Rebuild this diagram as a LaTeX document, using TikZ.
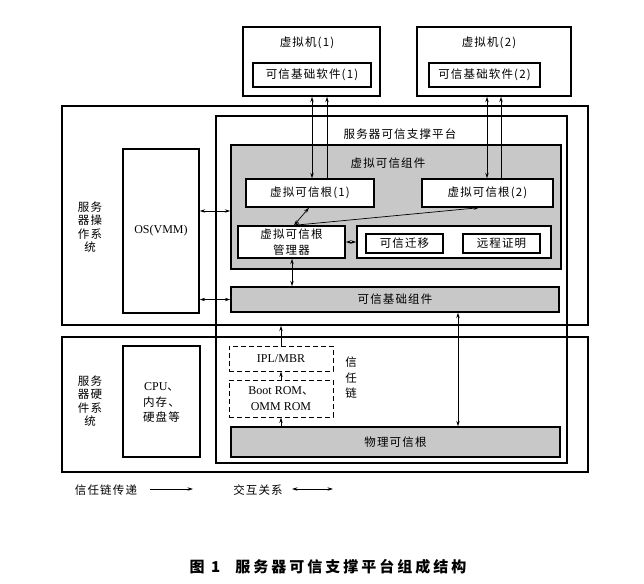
\documentclass[tikz,border=0pt]{standalone}
\usepackage{fontspec}
\setmainfont{Noto Sans CJK SC}[LetterSpace=10]
\newfontfamily\lat{Liberation Serif}
\newfontfamily\capfont{Noto Sans CJK SC}[LetterSpace=20]
\usetikzlibrary{arrows.meta,fit}
\definecolor{boxgray}{RGB}{200,200,200}
\newcommand{\bodyfont}{\fontsize{11.5}{15.5}\selectfont}
\newcommand{\latf}{\lat\fontsize{12}{15.5}\selectfont}
\tikzset{
  box/.style={draw, line width=1.4pt, fill=white, inner sep=0pt},
  graybox/.style={box, fill=boxgray},
  frame/.style={draw, line width=1.4pt, inner sep=0pt},
  dbox/.style={draw, line width=1pt, dash pattern=on 5pt off 3pt, inner sep=0pt},
  txt/.style={inner sep=0pt, font=\bodyfont, align=center},
  side/.style={txt, font=\fontsize{11.5}{13.5}\selectfont},
  uni/.style={-{Stealth[length=5.5pt,width=3.4pt]}, line width=0.7pt},
  bi/.style={{Stealth[length=5.5pt,width=3.4pt]}-{Stealth[length=5.5pt,width=3.4pt]}, line width=0.7pt},
}
\begin{document}
\begin{tikzpicture}[x=1pt,y=-1pt]
\useasboundingbox[fill=white] (0,0) rectangle (644,583);
% outer frames
\node[frame, fit={(62,106) (588,325)}] (osys) {};
\node[frame, fit={(62,337) (588,472)}] (hw) {};
\node[frame, fit={(216,116) (567,463)}] (plat) {};
\node[side] (ost) at (90,227) {服务\\器操\\作系\\统};
\node[side] (hwt) at (90,401) {服务\\器硬\\件系\\统};
\node[txt] (platt) at (400,134) {服务器可信支撑平台};
% virtual machines
\node[box, fit={(243,27) (380,96)}] (vm1) {};
\node[txt] (vm1t) at (307,43) {虚拟机(1)};
\node[box, fit={(253,63) (371,87)}] (sw1) {};
\node[txt] (sw1t) at (sw1) {可信基础软件(1)};
\node[box, fit={(417,27) (571,96)}] (vm2) {};
\node[txt] (vm2t) at (489,43) {虚拟机(2)};
\node[box, fit={(429,63) (540,87)}] (sw2) {};
\node[txt] (sw2t) at (sw2) {可信基础软件(2)};
% OS(VMM)
\node[box, fit={(123,149) (199,313)}] (vmm) {};
\node[txt, font=\latf] (vmmt) at (vmm) {OS(VMM)};
% virtual trusted component group
\node[graybox, fit={(231,145) (561,269)}] (vgroup) {};
\node[txt] (vgt) at (388,163) {虚拟可信组件};
\node[box, fit={(246,179) (374,207)}] (vtr1) {};
\node[txt] (vtr1t) at (vtr1) {虚拟可信根(1)};
\node[box, fit={(422,179) (553,207)}] (vtr2) {};
\node[txt] (vtr2t) at (vtr2) {虚拟可信根(2)};
\node[box, fit={(238,226) (345,258)}] (mgr) {};
\node[txt] (mgrt) at (mgr) {虚拟可信根\\管理器};
\node[box, fit={(357,226) (551,258)}] (cont) {};
\node[box, fit={(366,234) (443,253)}] (mig) {};
\node[txt] (migt) at (mig) {可信迁移};
\node[box, fit={(463,234) (540,253)}] (rem) {};
\node[txt] (remt) at (rem) {远程证明};
\node[graybox, fit={(231,287) (559,312)}] (base) {};
\node[txt] (baset) at (base) {可信基础组件};
% hardware
\node[box, fit={(123,346) (200,457)}] (cpu) {};
\node[txt] (cput) at ([yshift=-1pt]cpu.center) {{\latf CPU}、\\内存、\\硬盘等};
\node[dbox, fit={(229,346) (333,371)}] (ipl) {};
\node[txt, font=\latf] (iplt) at (ipl) {IPL/MBR};
\node[dbox, fit={(229,380) (333,417)}] (boot) {};
\node[txt] (boott) at (boot) {{\latf Boot ROM}、\\{\latf OMM ROM}};
\node[graybox, fit={(231,427) (560,457)}] (phys) {};
\node[txt] (physt) at (phys) {物理可信根};
\node[txt] (chaint) at (351,378) {信\\任\\链};
% connectors
\draw[bi] (vm1.south -| 312,0) -- (vtr1.north -| 312,0);
\draw[uni] (vtr1.north -| 327,0) -- (vm1.south -| 327,0);
\draw[bi] (vm2.south -| 487,0) -- (vtr2.north -| 487,0);
\draw[uni] (vtr2.north -| 501,0) -- (vm2.south -| 501,0);
\draw[bi] (vtr1.south -| 309,0) -- (mgr.north -| 294,0);
\draw[bi] (vtr2.south -| 479,0) -- (mgr.north -| 294,0);
\draw[bi] (mgr.east) -- (cont.west);
\draw[bi] (vmm.east |- 0,211) -- (vgroup.west |- 0,211);
\draw[bi] (vmm.east |- base.west) -- (base.west);
\draw[bi] (mgr.south -| 292,0) -- (base.north -| 292,0);
\draw[bi] (base.south -| 458,0) -- (phys.north -| 458,0);
\draw[uni] (ipl.north) -- (ipl.north |- osys.south);
\draw[uni] (boot.north) -- (ipl.south);
\draw[uni] (phys.north -| boot.south) -- (boot.south);
% legend
\node[txt] (leg1) at (106,490) {信任链传递};
\coordinate (l1a) at (150,489);
\coordinate (l1b) at (193,489);
\draw[uni] (l1a) -- (l1b);
\node[txt] (leg2) at (258,490) {交互关系};
\coordinate (l2a) at (292,489);
\coordinate (l2b) at (333,489);
\draw[bi] (l2a) -- (l2b);
% caption
\node[inner sep=0pt, font=\capfont\bfseries\fontsize{15}{17}\selectfont] (cap) at (328,567) {图 1\hspace{1em}服务器可信支撑平台组成结构};
\end{tikzpicture}
\end{document}
